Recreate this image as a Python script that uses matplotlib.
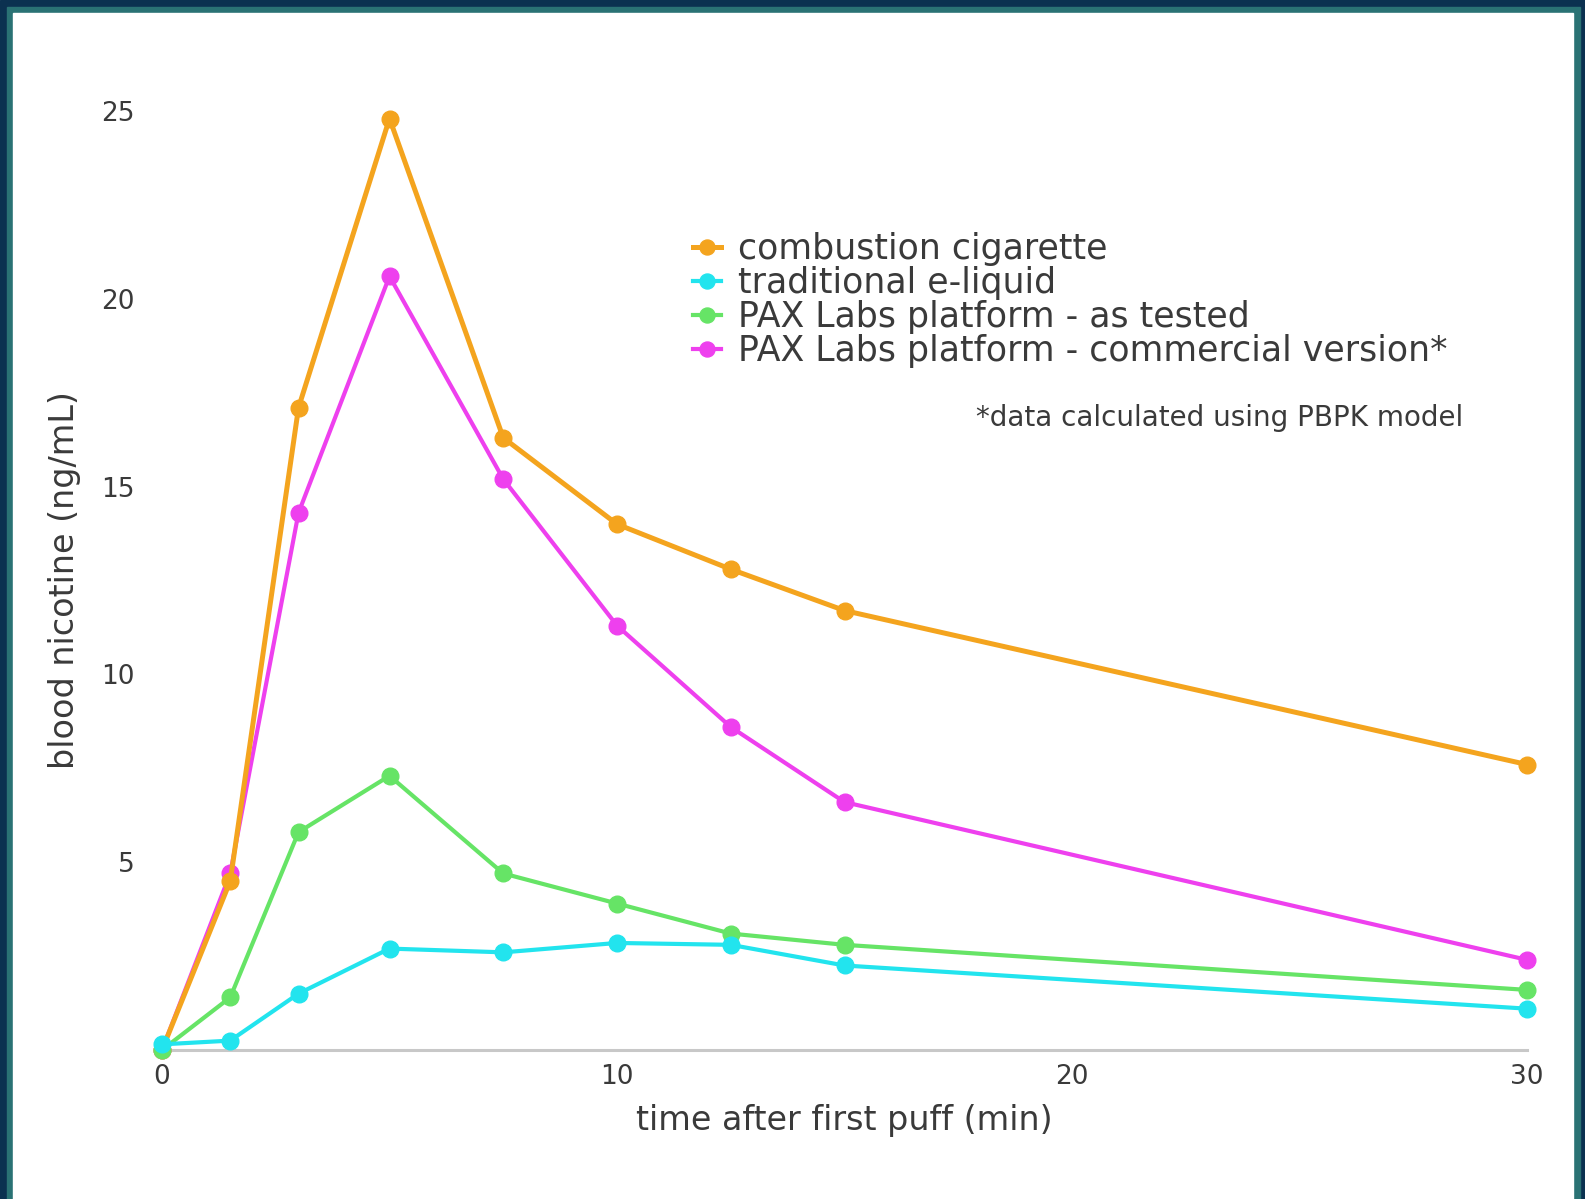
import matplotlib
matplotlib.use('Agg')
import matplotlib.pyplot as plt
from matplotlib.patches import Rectangle

# 데이터
time_min = [0, 1.5, 3, 5, 7.5, 10, 12.5, 15, 30]
combustion = [0.0, 4.5, 17.1, 24.8, 16.3, 14.0, 12.8, 11.7, 7.6]
e_liquid = [0.15, 0.25, 1.5, 2.7, 2.6, 2.85, 2.8, 2.25, 1.1]
pax_tested = [0.0, 1.4, 5.8, 7.3, 4.7, 3.9, 3.1, 2.8, 1.6]
pax_commercial = [0.0, 4.7, 14.3, 20.6, 15.2, 11.3, 8.6, 6.6, 2.4]

labels = ['combustion cigarette', 'traditional e-liquid',
          'PAX Labs platform - as tested',
          'PAX Labs platform - commercial version*']
colors = ['#F4A41E', '#22E4EE', '#66E466', '#EE40EE']
x_ticks = [0, 10, 20, 30]
y_ticks = [5, 10, 15, 20, 25]

text_color = '#3a3a3a'
plt.rcParams['font.family'] = ['DejaVu Sans']

W, H = 1585, 1199
fig = plt.figure(figsize=(W / 100, H / 100), dpi=100)

# 테두리 (남색 + 청록색)
fig.patches.append(Rectangle((0, 0), 1, 1, transform=fig.transFigure,
                             color='#0b3150', zorder=-3))
fig.patches.append(Rectangle((7 / W, 0), (1580 - 7) / W, (H - 7) / H,
                             transform=fig.transFigure, color='#2a7274', zorder=-2))
fig.patches.append(Rectangle((13 / W, 0), (1573 - 13) / W, (H - 13) / H,
                             transform=fig.transFigure, color='white', zorder=-1))

x0, x1 = 162, 1527
y0, y1 = 1050, 111
ax = fig.add_axes([x0 / W, (H - y0) / H, (x1 - x0) / W, (y0 - y1) / H])
ax.set_facecolor('none')

series = [combustion, e_liquid, pax_tested, pax_commercial]
zorders = [4, 6, 5, 3]
widths = [3.6, 3.0, 3.0, 3.0]
for vals, lab, c, z, lw in zip(series, labels, colors, zorders, widths):
    ax.plot(time_min, vals, color=c, lw=lw, marker='o', markersize=12,
            label=lab, zorder=z, clip_on=False)

ax.set_xlim(0, 30)
ax.set_ylim(0, 25)
ax.set_xticks(x_ticks)
ax.set_yticks(y_ticks)
for s in ['top', 'right', 'left']:
    ax.spines[s].set_visible(False)
ax.spines['bottom'].set_color('#c8c8c8')
ax.spines['bottom'].set_linewidth(2.2)
ax.spines['bottom'].set_zorder(1)
ax.tick_params(axis='both', length=0, labelsize=19, labelcolor=text_color)
ax.tick_params(axis='y', pad=20)
ax.tick_params(axis='x', pad=10)

ax.set_xlabel('time after first puff (min)', fontsize=24, color=text_color,
              labelpad=10)
ax.set_ylabel('blood nicotine (ng/mL)', fontsize=24, color=text_color,
              labelpad=14)

leg = ax.legend(loc='upper left', bbox_to_anchor=(676 / W, (H - 215) / H),
                bbox_transform=fig.transFigure, frameon=False, fontsize=25,
                handlelength=0.8, handletextpad=0.5, labelspacing=0.0,
                borderpad=0, markerscale=0.9)
for t in leg.get_texts():
    t.set_color(text_color)

fig.text(1463 / W, (H - 418) / H, '*data calculated using PBPK model',
         fontsize=20, color=text_color, ha='right', va='center')

fig.savefig('out.png', dpi=100)
